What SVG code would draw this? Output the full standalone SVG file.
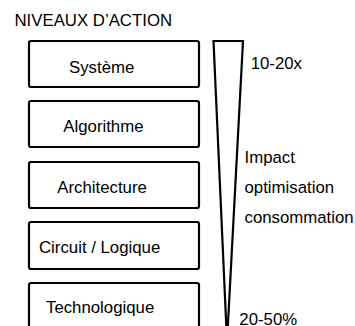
<svg xmlns="http://www.w3.org/2000/svg" width="355" height="326" viewBox="0 0 355 326">
<style>
text{font-family:"Liberation Sans",Arial,sans-serif;font-size:16.8px;fill:#000}
.box{fill:#fff;stroke:#000;stroke-width:2.2}
.wedge{fill:#fff;stroke:#000;stroke-width:2.2;stroke-linejoin:miter}
</style>
<rect width="355" height="326" fill="#fff"/>
<text id="title" x="14.5" y="26">NIVEAUX D’ACTION</text>
<g id="systeme"><rect class="box" x="29" y="41" width="170" height="46" rx="2"/><text x="69" y="73.3">Système</text></g>
<g id="algorithme"><rect class="box" x="29" y="101" width="170" height="46" rx="2"/><text x="63.3" y="131.7">Algorithme</text></g>
<g id="architecture"><rect class="box" x="29" y="162" width="170" height="46" rx="2"/><text x="57.3" y="192.7">Architecture</text></g>
<g id="circuit"><rect class="box" x="29" y="222" width="170" height="47" rx="2"/><text x="39" y="252.7">Circuit / Logique</text></g>
<g id="technologique"><rect class="box" x="29" y="283" width="170" height="48" rx="2"/><text x="46" y="313.3">Technologique</text></g>
<g id="impact">
<polygon class="wedge" points="213.5,41 243,41 227,342"/>
<text x="250.7" y="69">10-20x</text>
<text x="244.5" y="163">Impact</text>
<text x="244.5" y="193">optimisation</text>
<text x="244.5" y="223">consommation</text>
<text x="239.3" y="325">20-50%</text>
</g>
<g id="connectors"></g>
</svg>
